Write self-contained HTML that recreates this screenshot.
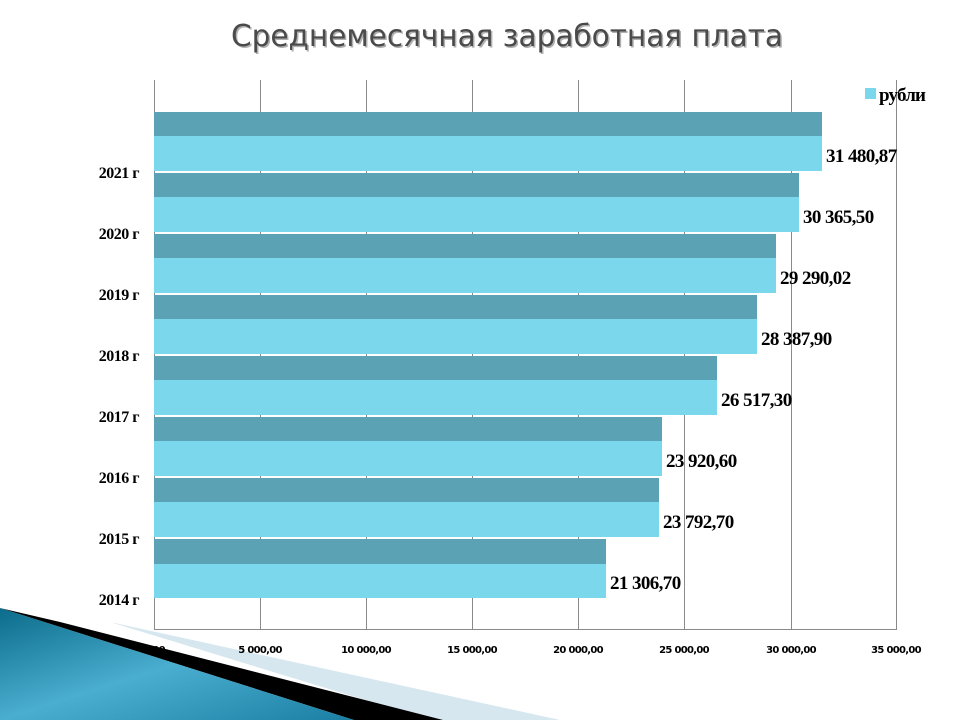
<!DOCTYPE html>
<html><head><meta charset="utf-8"><style>
html,body{margin:0;padding:0;background:#fff;}
svg{display:block;}
</style></head><body>
<svg width="960" height="720" viewBox="0 0 960 720" xmlns="http://www.w3.org/2000/svg">
<defs>
<linearGradient id="bg" x1="0" y1="0" x2="1" y2="1">
<stop offset="0" stop-color="#0b6b8a"/><stop offset="0.5" stop-color="#4aaed0"/><stop offset="1" stop-color="#1a7fa3"/>
</linearGradient>
</defs>
<text x="507" y="46" text-anchor="middle" font-family="'DejaVu Sans', 'Liberation Sans', sans-serif" font-size="30" fill="#b0b0b0" transform="translate(1.5,1.5)" textLength="552" lengthAdjust="spacingAndGlyphs">Среднемесячная заработная плата</text>
<text x="507" y="46" text-anchor="middle" font-family="'DejaVu Sans', 'Liberation Sans', sans-serif" font-size="30" fill="#4a4a4a" textLength="552" lengthAdjust="spacingAndGlyphs">Среднемесячная заработная плата</text>
<g stroke="#8a8a8a" stroke-width="1">
<line x1="154.5" y1="80" x2="154.5" y2="629"/>
<line x1="260.5" y1="80" x2="260.5" y2="629"/>
<line x1="366.5" y1="80" x2="366.5" y2="629"/>
<line x1="472.5" y1="80" x2="472.5" y2="629"/>
<line x1="578.5" y1="80" x2="578.5" y2="629"/>
<line x1="684.5" y1="80" x2="684.5" y2="629"/>
<line x1="791.5" y1="80" x2="791.5" y2="629"/>
<line x1="896.5" y1="80" x2="896.5" y2="629"/>
<line x1="154" y1="629.5" x2="897" y2="629.5"/>
</g>
<g>
<rect x="154" y="112" width="668" height="24" fill="#5ba3b4"/><rect x="154" y="136" width="668" height="35" fill="#7ad7ec"/>
<rect x="154" y="173" width="645" height="24" fill="#5ba3b4"/><rect x="154" y="197" width="645" height="35" fill="#7ad7ec"/>
<rect x="154" y="234" width="622" height="24" fill="#5ba3b4"/><rect x="154" y="258" width="622" height="35" fill="#7ad7ec"/>
<rect x="154" y="295" width="603" height="24" fill="#5ba3b4"/><rect x="154" y="319" width="603" height="35" fill="#7ad7ec"/>
<rect x="154" y="356" width="563" height="24" fill="#5ba3b4"/><rect x="154" y="380" width="563" height="35" fill="#7ad7ec"/>
<rect x="154" y="417" width="508" height="24" fill="#5ba3b4"/><rect x="154" y="441" width="508" height="35" fill="#7ad7ec"/>
<rect x="154" y="478" width="505" height="24" fill="#5ba3b4"/><rect x="154" y="502" width="505" height="35" fill="#7ad7ec"/>
<rect x="154" y="539" width="452" height="25" fill="#5ba3b4"/><rect x="154" y="564" width="452" height="34" fill="#7ad7ec"/>
</g>
<g font-family="'Liberation Serif', serif" font-size="19" font-weight="bold" fill="#000" letter-spacing="-0.6">
<text x="826" y="162">31 480,87</text>
<text x="803" y="223">30 365,50</text>
<text x="780" y="284">29 290,02</text>
<text x="761" y="345">28 387,90</text>
<text x="721" y="406">26 517,30</text>
<text x="666" y="467">23 920,60</text>
<text x="663" y="528">23 792,70</text>
<text x="610" y="589">21 306,70</text>
</g>
<g font-family="'Liberation Serif', serif" font-size="16" font-weight="bold" fill="#000" text-anchor="end" letter-spacing="-0.5">
<text x="139" y="178">2021 г</text>
<text x="139" y="239">2020 г</text>
<text x="139" y="300">2019 г</text>
<text x="139" y="361">2018 г</text>
<text x="139" y="422">2017 г</text>
<text x="139" y="483">2016 г</text>
<text x="139" y="544">2015 г</text>
<text x="139" y="605">2014 г</text>
</g>
<rect x="865" y="88" width="11" height="11" fill="#7ad7ec"/>
<text x="879" y="101" font-family="'Liberation Serif', serif" font-size="19" font-weight="bold" fill="#000" letter-spacing="-0.8">рубли</text>
<polygon points="110,622 560,720 430,720" fill="#d6e7ef"/>
<polygon points="0,608 60,622 443,720 354,720" fill="#000"/>
<polygon points="0,608 354,720 0,720" fill="url(#bg)"/>
<g font-family="'DejaVu Sans', sans-serif" font-size="10" font-weight="bold" fill="#000" text-anchor="middle" letter-spacing="-0.7">
<text x="154" y="653">0,00</text>
<text x="260" y="653">5 000,00</text>
<text x="366" y="653">10 000,00</text>
<text x="472" y="653">15 000,00</text>
<text x="578" y="653">20 000,00</text>
<text x="684" y="653">25 000,00</text>
<text x="791" y="653">30 000,00</text>
<text x="896" y="653">35 000,00</text>
</g>
</svg>
</body></html>
